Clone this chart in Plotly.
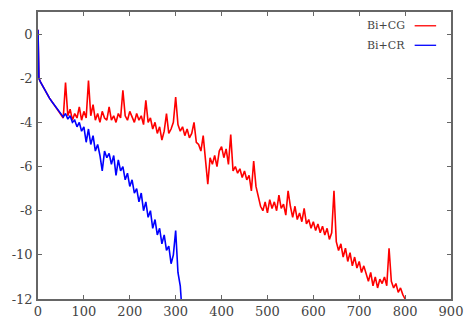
import plotly.graph_objects as go

# ---- data ----
red_x = [0, 2] + list(range(5, 805, 5))
red_y = [0.2, -2.0,
    -2.15, -2.35, -2.55, -2.75, -2.9, -3.05, -3.2, -3.35, -3.5, -3.65,   # 5..50
    -3.8, -2.2, -3.7, -3.4, -3.9, -3.6, -3.8, -3.3, -3.9, -3.5,          # 55..100
    -3.8, -2.1, -3.7, -3.2, -3.9, -3.6, -4.0, -3.5, -3.8, -3.9,          # 105..150
    -3.3, -3.9, -3.7, -4.0, -3.6, -3.8, -2.55, -3.7, -3.9, -3.5,         # 155..200
    -3.8, -4.0, -3.6, -3.9, -3.7, -4.1, -3.0, -4.0, -3.8, -4.3,          # 205..250
    -4.0, -4.5, -4.2, -4.8, -4.4, -3.6, -4.5, -4.3, -4.0, -2.85,         # 255..300
    -4.1, -4.4, -4.2, -4.6, -4.3, -4.7, -4.5, -4.0, -4.9, -5.0,          # 305..350
    -5.3, -4.6, -5.7, -6.8, -5.6, -5.9, -5.5, -6.0, -5.3, -5.1,          # 355..400
    -5.6, -5.2, -5.9, -4.55, -6.2, -6.0, -6.3, -6.1, -6.5, -6.2,         # 405..450
    -6.6, -6.4, -7.1, -5.75, -6.9, -7.4, -7.8, -8.0, -7.6, -8.1,         # 455..500
    -7.5, -7.9, -7.6, -8.0, -7.3, -7.9, -7.7, -8.2, -7.1, -7.8,          # 505..550
    -8.3, -7.8, -8.4, -8.1, -8.5, -7.9, -8.6, -8.4, -8.8, -8.5,          # 555..600
    -8.9, -8.6, -9.0, -8.7, -9.1, -8.8, -9.3, -9.0, -7.1, -9.4,          # 605..650
    -9.8, -9.5, -10.1, -9.7, -10.3, -9.9, -10.5, -10.1, -10.6, -10.3,    # 655..700
    -10.8, -10.5, -10.9, -11.2, -10.8, -11.4, -11.0, -11.5, -11.1, -11.3,# 705..750
    -11.0, -11.4, -9.7, -11.2, -11.5, -11.3, -11.7, -11.5, -11.8, -12.0  # 755..800
]

blue_x = [0, 2] + list(range(5, 315, 5)) + [312]
blue_y = [0.2, -2.0,
    -2.15, -2.35, -2.55, -2.75, -2.9, -3.05, -3.2, -3.35, -3.5, -3.65,   # 5..50
    -3.75, -3.6, -3.85, -3.7, -4.0, -3.9, -4.2, -4.0, -4.4, -4.2,        # 55..100
    -4.9, -4.3, -5.0, -4.6, -5.3, -5.0, -5.5, -6.2, -5.3, -5.6,          # 105..150
    -5.4, -5.9, -5.5, -6.4, -5.7, -6.2, -6.0, -6.6, -6.3, -6.9,          # 155..200
    -6.6, -7.2, -7.0, -7.6, -7.2, -8.0, -7.6, -8.3, -8.0, -8.8,          # 205..250
    -8.4, -9.1, -8.8, -9.5, -9.1, -9.8, -9.6, -10.4, -10.0, -8.9,        # 255..300
    -10.8, -11.4,                                                        # 305..310
    -12.0                                                                # 312
]

x_ticks = [0, 100, 200, 300, 400, 500, 600, 700, 800, 900]
y_ticks = [0, -2, -4, -6, -8, -10, -12]
legend_names = ["Bi+CG", "Bi+CR"]
colors = ["#ff0000", "#0000ff"]

fig = go.Figure()
fig.add_trace(go.Scatter(x=red_x, y=red_y, mode="lines", name=legend_names[0],
                         line=dict(color=colors[0], width=1.6), showlegend=False))
fig.add_trace(go.Scatter(x=blue_x, y=blue_y, mode="lines", name=legend_names[1],
                         line=dict(color=colors[1], width=1.6), showlegend=False))

SERIF = "DejaVu Serif"
tick_font = dict(family=SERIF, size=13, color="#444444")

def axis_style():
    return dict(showline=True, mirror="allticks", linecolor="#666666", linewidth=1.5,
                ticks="inside", ticklen=4, tickcolor="#666666", tickwidth=1,
                showgrid=False, zeroline=False, tickfont=dict(tick_font))

fig.update_layout(
    width=473, height=329,
    margin=dict(l=38, r=16, t=10, b=26),
    paper_bgcolor="white", plot_bgcolor="white",
    font=dict(family=SERIF, size=13, color="#444444"),
    xaxis=dict(range=[0, 900], tickvals=x_ticks, ticktext=[str(v) for v in x_ticks], **axis_style()),
    yaxis=dict(range=[-12, 1], tickvals=y_ticks, ticktext=[str(v) for v in y_ticks],
               ticklabelstandoff=1, **axis_style()),
)

# legend: text on the left, line sample on the right (gnuplot style)
legend_y = [0.952, 0.884]
for name, col, ly in zip(legend_names, colors, legend_y):
    fig.add_annotation(xref="paper", yref="paper", x=0.893, y=ly, text=name,
                       showarrow=False, xanchor="right", yanchor="middle",
                       font=dict(family=SERIF, size=11, color="#444444"))
    fig.add_shape(type="line", xref="paper", yref="paper", x0=0.912, x1=0.964, y0=ly, y1=ly,
                  line=dict(color=col, width=1.3))

fig.write_html("out.html")
